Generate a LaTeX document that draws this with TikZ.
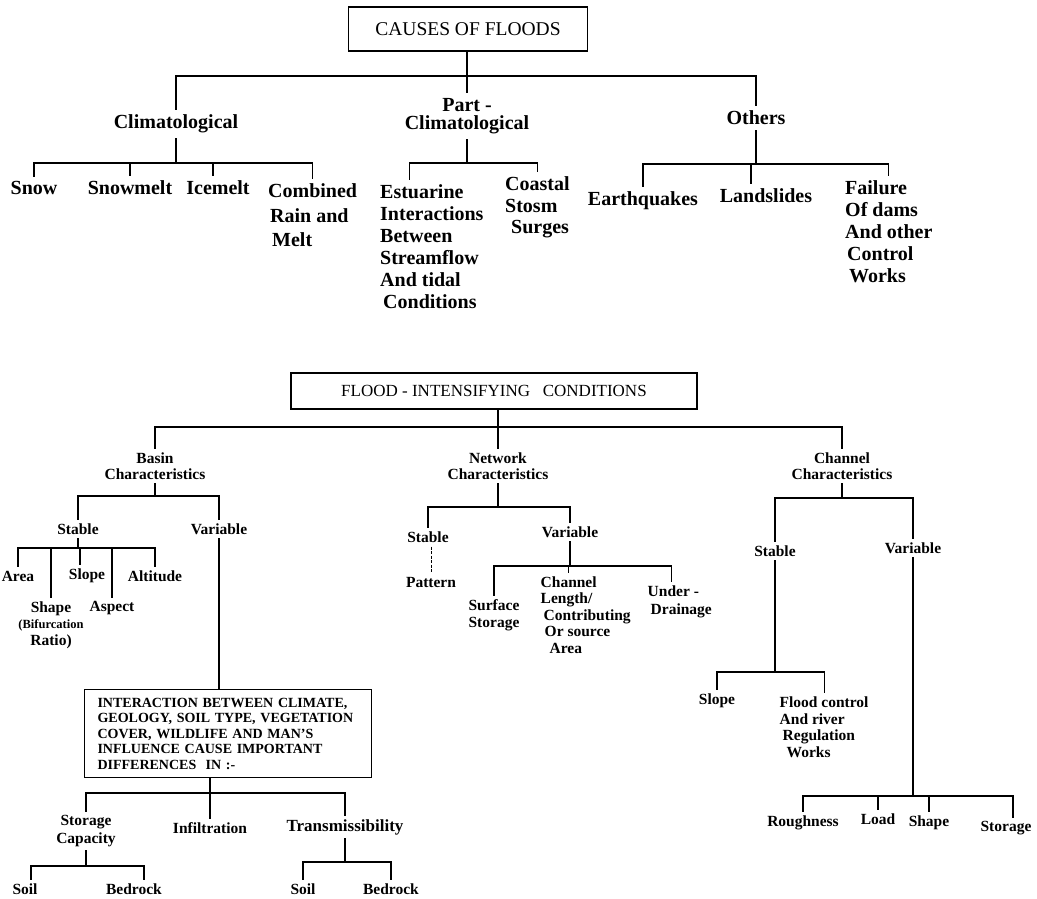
\documentclass[tikz,border=0pt]{standalone}
\usepackage{fontspec}
\setmainfont{Liberation Serif}
\begin{document}
\begin{tikzpicture}[x=1pt,y=-1pt,
  ln/.style={line width=1.1pt, line cap=rect},
  thinln/.style={line width=0.8pt, dash pattern=on 3pt off 1.5pt},
  tA/.style={font=\bfseries\fontsize{20}{22}\selectfont, inner xsep=2pt, inner ysep=5pt},
  tB/.style={font=\bfseries\fontsize{15.5}{16.5}\selectfont, inner xsep=1.5pt, inner ysep=4pt},
  hbox/.style={draw, line width=1.1pt, inner sep=0pt}]
\useasboundingbox (0,0) rectangle (1037,899);

% ---------------- CAUSES OF FLOODS ----------------
\node[hbox, minimum width=239pt, minimum height=44pt, font=\fontsize{19.5}{22}\selectfont] (causes) at (468,29) {CAUSES OF FLOODS};
\coordinate (b1) at (0,76);
\coordinate (b2) at (0,163);
\coordinate (b3) at (0,164);

\node[tA] (clim) at (176,124) {Climatological};
\node[tA, align=center, font=\bfseries\fontsize{20}{18.5}\selectfont] (part) at (467,116) {Part -\\Climatological};
\node[tA] (others) at (756,118) {Others};

\node[tA] (snow) at (34,188) {Snow};
\node[tA] (snowmelt) at (130,188) {Snowmelt};
\node[tA] (icemelt) at (218,188) {Icemelt};
\node[tA, align=left, anchor=west, font=\bfseries\fontsize{20}{24.5}\selectfont] (comb) at (266,215.5) {Combined\\\hspace*{2pt}Rain and\\\hspace*{4pt}Melt};

\node[tA, align=left, anchor=west] (estu) at (378,247) {Estuarine\\Interactions\\Between\\Streamflow\\And tidal\\\hspace*{3pt}Conditions};
\node[tA, align=left, anchor=west, font=\bfseries\fontsize{20}{21.5}\selectfont] (coast) at (503,207.5) {Coastal\\Stosm\\\hspace*{6pt}Surges};

\node[tA] (earth) at (643,201) {Earthquakes};
\node[tA] (land) at (766,196) {Landslides};
\node[tA, align=left, anchor=west] (fail) at (843,232) {Failure\\Of dams\\And other\\\hspace*{2pt}Control\\\hspace*{4pt}Works};

\coordinate (iceT) at ([xshift=-5pt]icemelt.north);
\coordinate (estT) at ([xshift=-22pt]estu.north);
\coordinate (landT) at ([xshift=-15pt]land.north);

\draw[ln] (part.north |- causes.south) -- (part.north);
\draw[ln] (clim.north |- b1) -- (others.north |- b1);
\draw[ln] (clim.north |- b1) -- (clim.north);
\draw[ln] (others.north |- b1) -- (others.north);

\draw[ln] (clim.south) -- (clim.south |- b2);
\draw[ln] (snow.north |- b2) -- (comb.north |- b2);
\draw[ln] (snow.north |- b2) -- (snow.north);
\draw[ln] (snowmelt.north |- b2) -- (snowmelt.north);
\draw[ln] (iceT |- b2) -- (iceT);
\draw[ln] (comb.north |- b2) -- (comb.north);

\draw[ln] (part.south) -- (part.south |- b2);
\draw[ln] (estT |- b2) -- (coast.north |- b2);
\draw[ln] (estT |- b2) -- (estT);
\draw[ln] (coast.north |- b2) -- (coast.north);

\draw[ln] (others.south) -- (others.south |- b3);
\draw[ln] (earth.north |- b3) -- (fail.north |- b3);
\draw[ln] (earth.north |- b3) -- (earth.north);
\draw[ln] (landT |- b3) -- (landT);
\draw[ln] (fail.north |- b3) -- (fail.north);

% ---------------- FLOOD-INTENSIFYING CONDITIONS ----------------
\node[hbox, minimum width=406pt, minimum height=36pt, font=\fontsize{17}{20}\selectfont] (flood) at (494,391) {FLOOD - INTENSIFYING\ \ \ CONDITIONS};
\coordinate (b4) at (0,427);

\node[tB, align=center] (basin) at (155,466) {Basin\\Characteristics};
\node[tB, align=center] (network) at (498,466) {Network\\Characteristics};
\node[tB, align=center] (channel) at (842,466) {Channel\\Characteristics};

\draw[ln] (network.north |- flood.south) -- (network.north);
\draw[ln] (basin.north |- b4) -- (channel.north |- b4);
\draw[ln] (basin.north |- b4) -- (basin.north);
\draw[ln] (channel.north |- b4) -- (channel.north);

% Basin
\coordinate (b5) at (0,496);
\coordinate (b6) at (0,548);
\node[tB] (bst) at (78,529) {Stable};
\node[tB] (bvar) at (219,529) {Variable};
\node[tB] (area) at (18,576) {Area};
\node[tB] (bslope) at (87,576) {Slope};
\node[tB] (alt) at (155,576) {Altitude};
\node[tB, align=center] (bshape) at (51,625) {Shape\\\fontsize{12.5}{16}\selectfont(Bifurcation\\Ratio)};
\node[tB] (aspect) at (112,608) {Aspect};
\coordinate (bslT) at ([xshift=-7pt]bslope.north);

\draw[ln] (basin.south) -- (basin.south |- b5);
\draw[ln] (bst.north |- b5) -- (bvar.north |- b5);
\draw[ln] (bst.north |- b5) -- (bst.north);
\draw[ln] (bvar.north |- b5) -- (bvar.north);
\draw[ln] (bst.south) -- (bst.south |- b6);
\draw[ln] (area.north |- b6) -- (alt.north |- b6);
\draw[ln] (area.north |- b6) -- (area.north);
\draw[ln] (bshape.north |- b6) -- (bshape.north);
\draw[ln] (bslT |- b6) -- (bslT);
\draw[ln] (aspect.north |- b6) -- (aspect.north);
\draw[ln] (alt.north |- b6) -- (alt.north);

\node[draw, line width=1.1pt, anchor=north west, text width=261pt, inner xsep=13pt, inner ysep=6pt, minimum height=88pt, align=left, font=\bfseries\fontsize{14}{15.5}\selectfont] (inter) at (84,689) {INTERACTION BETWEEN CLIMATE,\\GEOLOGY, SOIL TYPE, VEGETATION\\COVER, WILDLIFE AND MAN'S\\INFLUENCE CAUSE IMPORTANT\\DIFFERENCES\ \ IN :-};
\draw[ln] (bvar.south) -- (bvar.south |- inter.north);

\coordinate (b7) at (0,793);
\coordinate (b8) at (0,866);
\coordinate (b9) at (0,862);
\node[tB, align=center, font=\bfseries\fontsize{15.5}{18}\selectfont] (stor) at (86,831) {Storage\\Capacity};
\node[tB] (infil) at (210,828) {Infiltration};
\node[tB, font=\bfseries\fontsize{17}{18}\selectfont] (trans) at (345,827) {Transmissibility};
\node[tB] (soilA) at (25,889) {Soil};
\node[tB] (bedA) at (134,889) {Bedrock};
\node[tB] (soilB) at (303,889) {Soil};
\node[tB] (bedB) at (391,889) {Bedrock};
\coordinate (sAT) at ([xshift=6pt]soilA.north);
\coordinate (bAT) at ([xshift=10pt]bedA.north);

\draw[ln] (infil.north |- inter.south) -- (infil.north);
\draw[ln] (stor.north |- b7) -- (trans.north |- b7);
\draw[ln] (stor.north |- b7) -- (stor.north);
\draw[ln] (trans.north |- b7) -- (trans.north);
\draw[ln] (stor.south) -- (stor.south |- b8);
\draw[ln] (sAT |- b8) -- (bAT |- b8);
\draw[ln] (sAT |- b8) -- (sAT);
\draw[ln] (bAT |- b8) -- (bAT);
\draw[ln] (trans.south) -- (trans.south |- b9);
\draw[ln] (soilB.north |- b9) -- (bedB.north |- b9);
\draw[ln] (soilB.north |- b9) -- (soilB.north);
\draw[ln] (bedB.north |- b9) -- (bedB.north);

% Network
\coordinate (b10) at (0,507);
\coordinate (b11) at (0,566);
\node[tB] (nst) at (428,537) {Stable};
\node[tB] (nvar) at (570,532) {Variable};
\node[tB] (pattern) at (431,582) {Pattern};
\node[tB, align=center] (surf) at (494,615) {Surface\\Storage};
\node[tB, align=left, anchor=west] (chlen) at (539,615) {Channel\\Length/\\\hspace*{3pt}Contributing\\\hspace*{4pt}Or source\\\hspace*{9pt}Area};
\node[tB, align=left, anchor=west, font=\bfseries\fontsize{15.5}{18}\selectfont] (under) at (646,602) {Under -\\\hspace*{3pt}Drainage};
\coordinate (chT) at ([xshift=-17pt]chlen.north);
\coordinate (unT) at ([xshift=-8pt]under.north);

\draw[ln] (network.south) -- (network.south |- b10);
\draw[ln] (nst.north |- b10) -- (nvar.north |- b10);
\draw[ln] (nst.north |- b10) -- (nst.north);
\draw[ln] (nvar.north |- b10) -- (nvar.north);
\draw[thinln] (pattern.north |- nst.south) -- (pattern.north);
\draw[ln] (nvar.south) -- (nvar.south |- b11);
\draw[ln] (surf.north |- b11) -- (unT |- b11);
\draw[ln] (surf.north |- b11) -- (surf.north);
\draw[ln] (chT |- b11) -- (chT);
\draw[ln] (unT |- b11) -- (unT);

% Channel
\coordinate (b12) at (0,498);
\coordinate (b13) at (0,672);
\coordinate (b14) at (0,796);
\node[tB] (cst) at (775,551) {Stable};
\node[tB] (cvar) at (913,548) {Variable};
\node[tB] (cslope) at (717,701) {Slope};
\node[tB, align=left, anchor=west] (fcon) at (778,727) {Flood control\\And river\\\hspace*{3pt}Regulation\\\hspace*{7pt}Works};
\node[tB] (rough) at (803,823) {Roughness};
\node[tB] (load) at (878,819) {Load};
\node[tB] (cshape) at (929,823) {Shape};
\node[tB] (cstor) at (1006,828) {Storage};
\coordinate (csT) at ([xshift=7pt]cstor.north);

\draw[ln] (channel.south) -- (channel.south |- b12);
\draw[ln] (cst.north |- b12) -- (cvar.north |- b12);
\draw[ln] (cst.north |- b12) -- (cst.north);
\draw[ln] (cvar.north |- b12) -- (cvar.north);
\draw[ln] (cst.south) -- (cst.south |- b13);
\draw[ln] (cslope.north |- b13) -- (fcon.north |- b13);
\draw[ln] (cslope.north |- b13) -- (cslope.north);
\draw[ln] (fcon.north |- b13) -- (fcon.north);
\draw[ln] (cvar.south) -- (cvar.south |- b14);
\draw[ln] (rough.north |- b14) -- (csT |- b14);
\draw[ln] (rough.north |- b14) -- (rough.north);
\draw[ln] (load.north |- b14) -- (load.north);
\draw[ln] (cshape.north |- b14) -- (cshape.north);
\draw[ln] (csT |- b14) -- (csT);
\end{tikzpicture}
\end{document}
